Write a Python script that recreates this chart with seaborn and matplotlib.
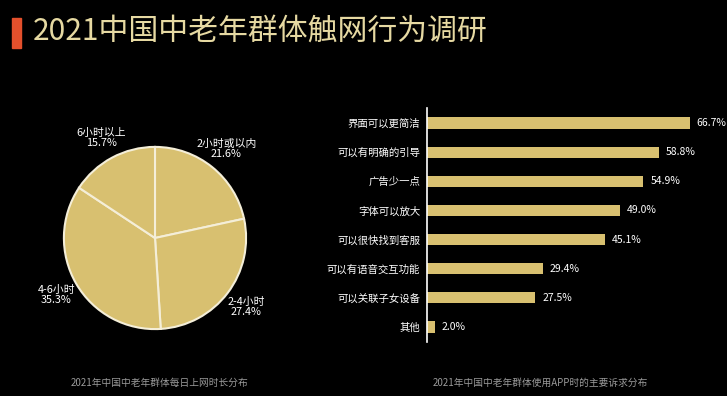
import matplotlib
matplotlib.use("Agg")
import matplotlib.pyplot as plt
import seaborn as sns
import pandas as pd

# pie: daily online time
pie_labels = ["2小时或以内", "2-4小时", "4-6小时", "6小时以上"]
pie_values = [21.6, 27.4, 35.3, 15.7]

# bar: main demands when using apps
demands = ["界面可以更简洁", "可以有明确的引导", "广告少一点", "字体可以放大",
           "可以很快找到客服", "可以有语音交互功能", "可以关联子女设备", "其他"]
demand_pct = [66.7, 58.8, 54.9, 49.0, 45.1, 29.4, 27.5, 2.0]

title = "2021中国中老年群体触网行为调研"
foot_left = "2021年中国中老年群体每日上网时长分布"
foot_right = "2021年中国中老年群体使用APP时的主要诉求分布"

gold = "#D8C070"
bg = "black"

sns.set_theme(style="white")
plt.rcParams["font.family"] = ["Noto Sans CJK SC", "DejaVu Sans"]

fig = plt.figure(figsize=(7.27, 3.96), dpi=100, facecolor=bg)

# title with red marker
fig.patches.append(plt.Rectangle((12/727, 1-48/396), 9/727, 30/396,
                                 transform=fig.transFigure, color="#E4502C"))
fig.text(33/727, 1-31/396, title, color="#E6D9A2", fontsize=21.5,
         va="center", ha="left", fontweight="medium")

# pie
ax1 = fig.add_axes([63/727, 66/396, 184/727, 184/396])
ax1.set_facecolor(bg)
wedges, texts = ax1.pie(pie_values, startangle=90, counterclock=False,
                        colors=[gold]*4, labeldistance=1.25,
                        labels=[f"{l}\n{v:.1f}%" for l, v in zip(pie_labels, pie_values)],
                        wedgeprops=dict(edgecolor="#F4EED8", linewidth=1.5))
for t in texts:
    t.set_color("white")
    t.set_fontsize(7.8)
    t.set_ha("center")
    t.set_va("center")
    t.set_linespacing(1.0)
    t.set_clip_on(False)
ax1.set_aspect("equal")
ax1.set_xlim(-1.01, 1.01)
ax1.set_ylim(-1.01, 1.01)

# bar chart
df = pd.DataFrame({"demand": demands, "pct": demand_pct})
ax2 = fig.add_axes([427/727, 1-341.6/396, 295.6/727, 233.2/396])
ax2.set_facecolor(bg)
sns.barplot(data=df, x="pct", y="demand", orient="h", color=gold,
            width=0.38, saturation=1, linewidth=0, ax=ax2)
ax2.set_xlim(0, 75)
ax2.set_ylim(7.5, -0.5)
ax2.set_xlabel("")
ax2.set_ylabel("")
ax2.set_xticks([])
for s in ["top", "right", "bottom"]:
    ax2.spines[s].set_visible(False)
ax2.spines["left"].set_color("white")
ax2.spines["left"].set_linewidth(1.2)
ax2.tick_params(axis="y", colors="white", labelsize=7.5, length=0, pad=5)
for c in ax2.containers:
    ax2.bar_label(c, labels=[f"{v:.1f}%" for v in demand_pct], padding=5,
                  color="white", fontsize=7.5)

fig.text(160/727, 1-383/396, foot_left, color="#9A9A9A", fontsize=7, ha="center", va="center")
fig.text(540/727, 1-383/396, foot_right, color="#9A9A9A", fontsize=7, ha="center", va="center")

fig.savefig("out.png", dpi=100, facecolor=bg)
